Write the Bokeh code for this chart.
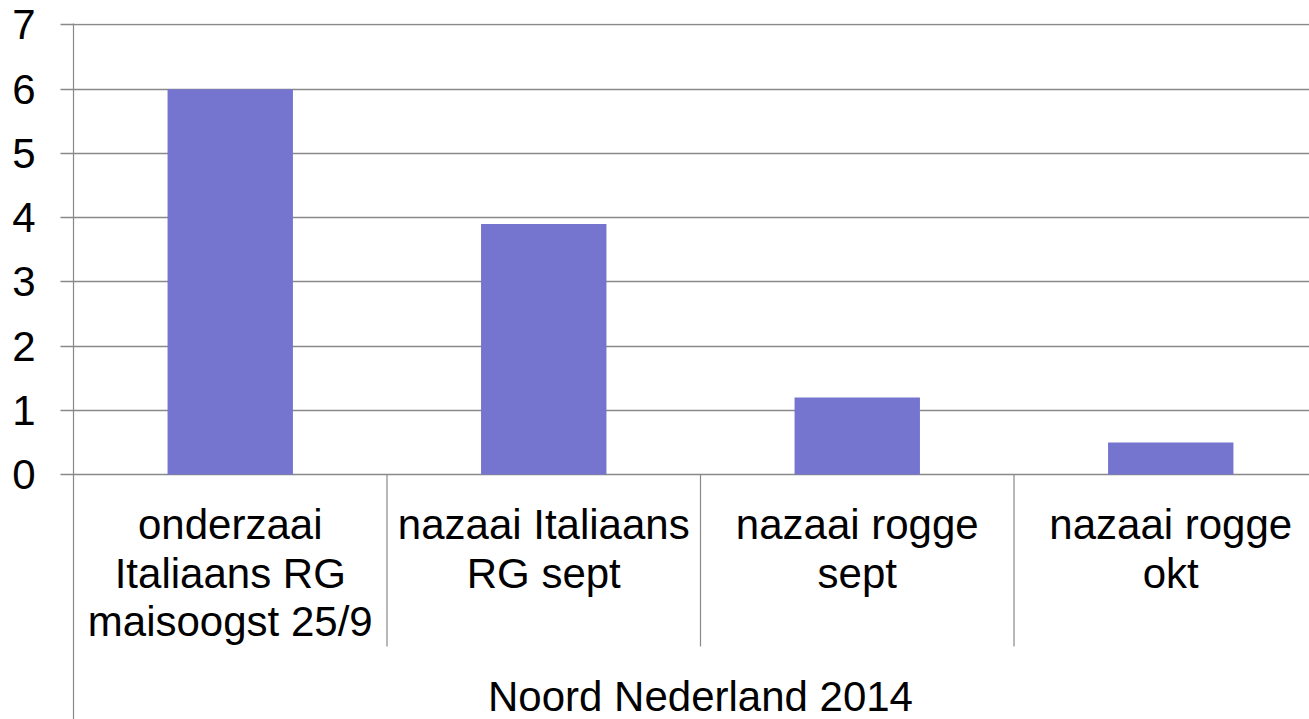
from bokeh.plotting import figure
from bokeh.models import Range1d, FixedTicker, ColumnDataSource
from bokeh.core.properties import value
from bokeh.embed import file_html
from bokeh.resources import INLINE

categories = ["onderzaai\nItaliaans RG\nmaisoogst 25/9",
              "nazaai Italiaans\nRG sept",
              "nazaai rogge\nsept",
              "nazaai rogge\nokt"]
values = [6.0, 3.9, 1.2, 0.5]
group_label = "Noord Nederland 2014"
y_ticks = [0, 1, 2, 3, 4, 5, 6, 7]

FONT = "Liberation Sans"
GRAY = "#898989"
BAR = "#7575CF"

W, H = 1309, 719
LEFT, TOP = 73, 23
cat_px = 313.5
zero_px = 474                      # canvas y of the value 0 line
y_top = 7.023
scale = (zero_px - TOP) / y_top    # px per unit
y_bottom = -(H - zero_px) / scale
x_end = (W - LEFT) / cat_px

p = figure(width=W, height=H, output_backend="svg", toolbar_location=None,
           x_range=Range1d(0, x_end), y_range=Range1d(y_bottom, y_top),
           x_axis_location=None,
           min_border_left=LEFT, min_border_right=0,
           min_border_top=TOP, min_border_bottom=0)
p.outline_line_color = None
p.background_fill_color = "white"
p.border_fill_color = "white"

n = len(categories)
xs = [i + 0.5 for i in range(n)]
p.vbar(x=xs, top=values, width=0.4, bottom=0, fill_color=BAR, line_color=None)

# y axis
p.yaxis.ticker = FixedTicker(ticks=y_ticks, minor_ticks=[])
p.yaxis.axis_line_color = GRAY
p.yaxis.axis_line_width = 1.2
p.yaxis.major_tick_line_color = GRAY
p.yaxis.major_tick_line_width = 1.5
p.yaxis.major_tick_out = 13
p.yaxis.major_tick_in = 0
p.yaxis.major_label_standoff = 25
p.yaxis.major_label_text_font = FONT
p.yaxis.major_label_text_font_size = "42px"
p.yaxis.major_label_text_color = "black"

p.ygrid.ticker = FixedTicker(ticks=y_ticks)
p.ygrid.grid_line_color = GRAY
p.ygrid.grid_line_width = 1.5
p.xgrid.grid_line_color = None

# category separators below the value axis
sep_len = 172
bx = list(range(1, n))
p.segment(x0=bx, y0=[0] * len(bx), x1=bx, y1=[-sep_len / scale] * len(bx),
          line_color=GRAY, line_width=1.2)

# category labels, line by line
lx, ly, lt, lo = [], [], [], []
for x, c in zip(xs, categories):
    for i, line in enumerate(c.split("\n")):
        lx.append(x); ly.append(0); lt.append(line); lo.append(50 + i * 48.5)
src = ColumnDataSource(dict(x=lx, y=ly, text=lt, off=lo))
p.text(x="x", y="y", text="text", y_offset="off", source=src,
       text_align="center", text_baseline="alphabetic",
       text_font=value(FONT), text_font_size=value("42px"), text_color="black")

# group label
p.text(x=[n / 2], y=[0], text=[group_label], y_offset=222,
       text_align="center", text_baseline="alphabetic",
       text_font=value(FONT), text_font_size=value("42px"), text_color="black")

open("out.html", "w").write(file_html(p, INLINE))
